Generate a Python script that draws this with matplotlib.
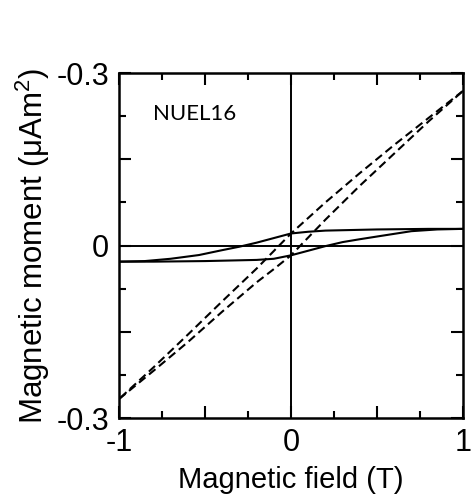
import matplotlib.pyplot as plt
from matplotlib.ticker import FixedLocator, FixedFormatter
import numpy as np

# === Data ===
# solid loop
solid_up_x = [1.0, 0.8, 0.5, 0.2, 0.1, 0.0, -0.1, -0.2, -0.3, -0.4, -0.535, -0.7, -0.85, -1.0]
solid_up_y = [0.029, 0.029, 0.028, 0.026, 0.024, 0.021, 0.013, 0.005, -0.002, -0.008, -0.0165, -0.023, -0.027, -0.028]
solid_lo_x = [-1.0, -0.8, -0.5, -0.2, -0.1, 0.0, 0.1, 0.2, 0.3, 0.4, 0.517, 0.7, 0.85, 1.0]
solid_lo_y = [-0.028, -0.028, -0.027, -0.025, -0.023, -0.017, -0.009, -0.001, 0.006, 0.011, 0.0165, 0.025, 0.028, 0.029]

# dashed loop
dash_up_x = [1.0, 0.8, 0.6, 0.4, 0.2, 0.0, -0.2, -0.4, -0.6, -0.8, -1.0]
dash_up_y = [0.269, 0.222, 0.175, 0.126, 0.075, 0.021, -0.040, -0.097, -0.155, -0.212, -0.267]
dash_lo_x = [-1.0, -0.8, -0.6, -0.4, -0.2, -0.1, 0.0, 0.2, 0.4, 0.6, 0.8, 1.0]
dash_lo_y = [-0.267, -0.218, -0.168, -0.115, -0.064, -0.041, -0.017, 0.045, 0.104, 0.160, 0.216, 0.269]

x_major = [-1, -0.5, 0, 0.5, 1]
x_labels = ['-1', '', '0', '', '1']
y_major = [-0.3, -0.15, 0, 0.15, 0.3]
y_labels = ['-0.3', '', '0', '', '-0.3']

plt.rcParams['font.family'] = ['Liberation Sans', 'DejaVu Sans']

fig = plt.figure(figsize=(4.71, 5.04), dpi=100)
ax = fig.add_axes([0.2527, 0.1706, 0.7303, 0.6844])

ax.axhline(0, color='black', lw=1.4)
ax.axvline(0, color='black', lw=1.4)

ax.plot(solid_up_x, solid_up_y, color='black', lw=1.5)
ax.plot(solid_lo_x, solid_lo_y, color='black', lw=1.5)
ax.plot(dash_up_x, dash_up_y, color='black', lw=1.5, linestyle=(0, (4, 2.2)))
ax.plot(dash_lo_x, dash_lo_y, color='black', lw=1.5, linestyle=(0, (4, 2.2)))

ax.set_xlim(-1, 1)
ax.set_ylim(-0.3, 0.3)

ax.xaxis.set_major_locator(FixedLocator(x_major))
ax.xaxis.set_major_formatter(FixedFormatter(x_labels))
ax.xaxis.set_minor_locator(FixedLocator(np.arange(-1, 1.01, 0.25)))
ax.yaxis.set_major_locator(FixedLocator(y_major))
ax.yaxis.set_major_formatter(FixedFormatter(y_labels))
ax.yaxis.set_minor_locator(FixedLocator(np.arange(-0.3, 0.31, 0.075)))

ax.tick_params(which='both', direction='in', top=True, right=True, width=1.5)
ax.tick_params(which='major', length=8.5, labelsize=22, pad=7)
ax.tick_params(which='minor', length=5)
for s in ax.spines.values():
    s.set_linewidth(1.8)

ax.set_xlabel('Magnetic field (T)', fontsize=21, labelpad=6)
ax.set_ylabel(r'Magnetic moment ($\mathregular{\mu}$Am$^\mathregular{2}$)', fontsize=22.5, labelpad=3)

ax.text(0.098, 0.88, 'NUEL16', transform=ax.transAxes, fontsize=16,
        family=['Lato', 'DejaVu Sans'], va='center', ha='left')

fig.savefig('out.png', dpi=100)
